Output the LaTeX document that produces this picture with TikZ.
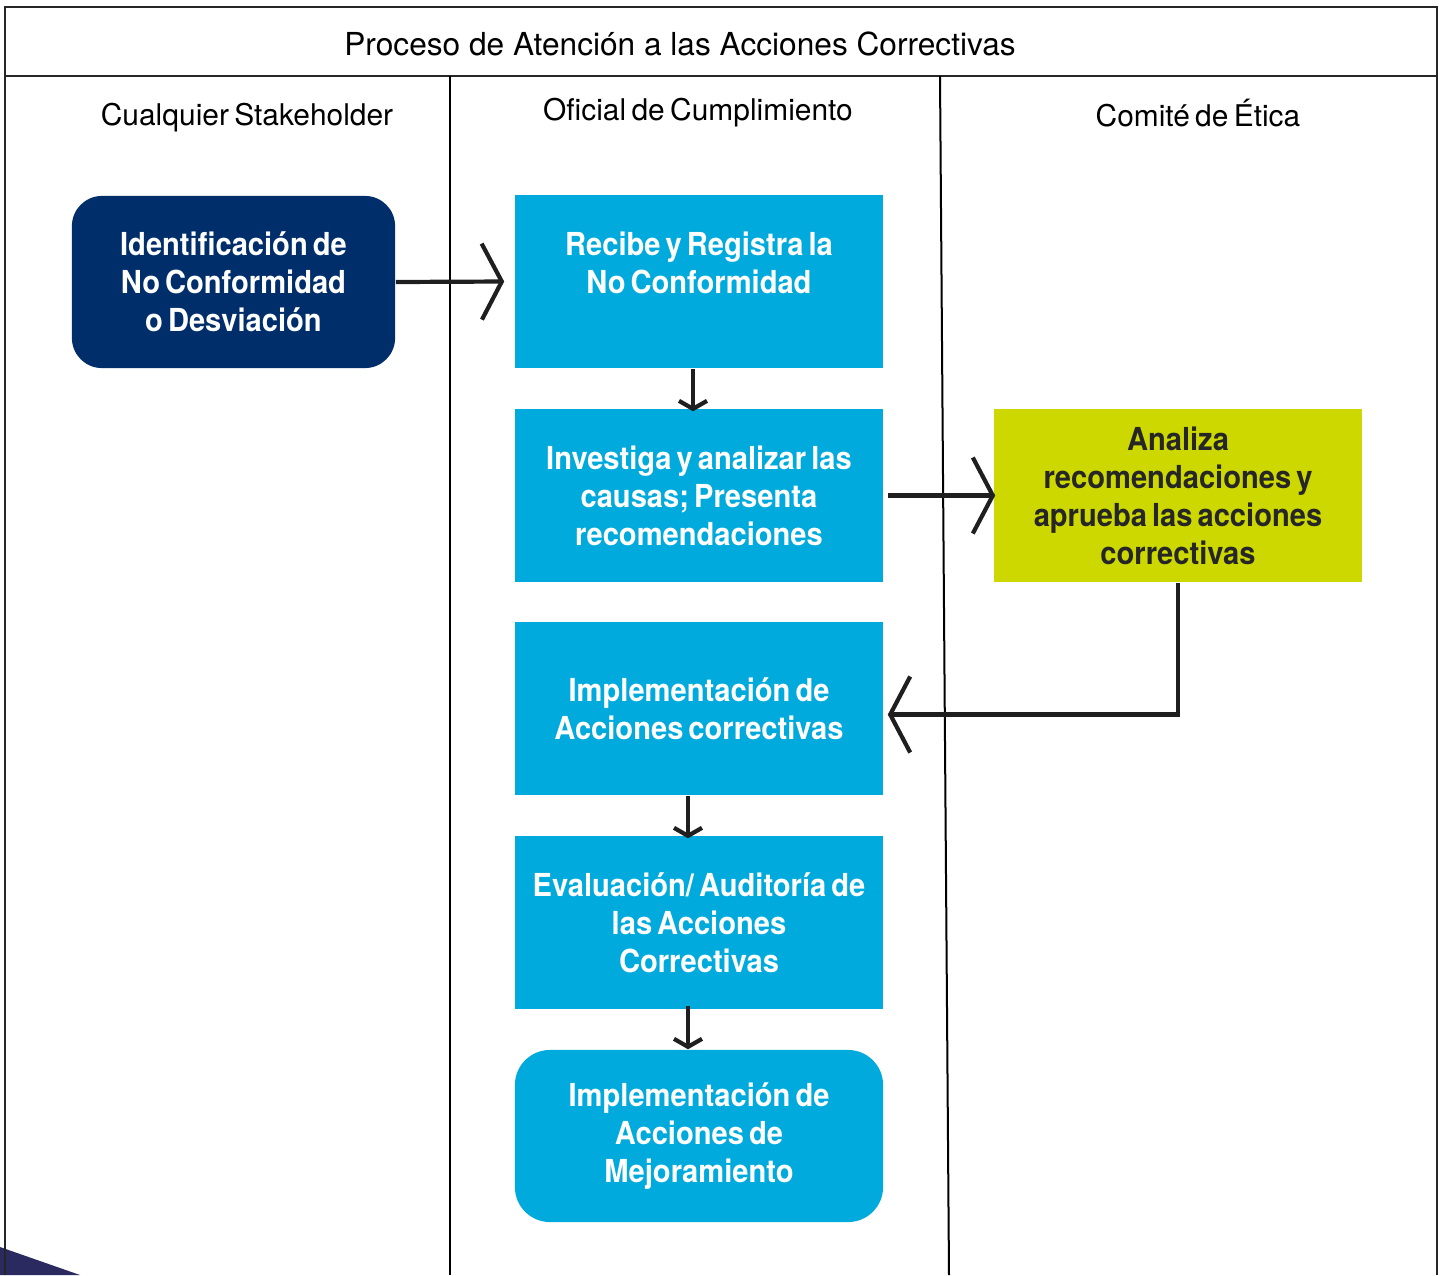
\documentclass[tikz,border=0pt]{standalone}
\usepackage{fontspec}
\setmainfont{TeX Gyre Heros}
\newfontfamily\boxfont[FakeStretch=0.92]{TeX Gyre Heros}
\usetikzlibrary{arrows.meta}
\definecolor{navy}{HTML}{002E6B}
\definecolor{cyanbox}{HTML}{00AADC}
\definecolor{limebox}{HTML}{CCD800}
\definecolor{corner}{HTML}{2A2960}
\newcommand\letrapaso{\boxfont\bfseries\fontsize{9}{10.8}\selectfont\spaceskip 0.16em\relax}
\newcommand\letracarril{\fontsize{8.5}{10}\selectfont\spaceskip 0.18em\relax}
\begin{document}
\begin{tikzpicture}[x=0.01cm,y=-0.01cm,
    paso/.style={fill=cyanbox,text=white,minimum width=3.68cm,minimum height=1.73cm,
      align=center,inner sep=0pt,font=\letrapaso},
    carril/.style={font=\letracarril},
    flujo/.style={line width=0.042cm,draw=black!88},
    puntagrande/.style={-{Straight Barb[length=0.2cm,width=0.76cm]}},
    puntachica/.style={-{Straight Barb[length=0.08cm,width=0.28cm]}}]
      \useasboundingbox (0,0) rectangle (1445,1275) ;
      % marco y carriles
      \fill[corner] (0,1247)--(80,1275)--(0,1275)--cycle ;
      \draw[line width=0.025cm,black!85] (5,1275)--(5,7)--(1437,7)--(1437,1275) ;
      \draw[line width=0.02cm,black!85] (5,76)--(1437,76) ;
      \draw[line width=0.02cm] (450,76)--(450,1275) ;
      \draw[line width=0.02cm] (940,76)--(949,1275) ;
      \node[font=\fontsize{9}{10}\selectfont] (titulo) at (680,44) %
      {Proceso de Atención a las Acciones Correctivas} ;
      \node[carril] (stake) at (247,118) {Cualquier Stakeholder} ;
      \node[carril] (oficial) at (698,113) {Oficial de Cumplimiento} ;
      \node[carril] (comite) at (1198,113) {Comité de Ética} ;
      % pasos
      \node[paso,fill=navy,minimum width=3.23cm,minimum height=1.72cm,rounded corners=0.3cm] %
      (ident) at (233.5,282) {Identificación de\\No Conformidad\\o Desviación} ;
      \node[paso] (recibe) at (699,281.5) {Recibe y Registra la\\No Conformidad\\\mbox{}} ;
      \node[paso] (investiga) at (699,495.5) {Investiga y analizar las\\causas; Presenta\\recomendaciones} ;
      \node[paso,fill=limebox,text=black!85] (analiza) at (1178,495.5) %
      {Analiza\\recomendaciones y\\aprueba las acciones\\correctivas} ;
      \node[paso] (implementa) at (699,708.5) {Implementación de\\Acciones correctivas} ;
      \node[paso] (evalua) at (699,922.5) {Evaluación/ Auditoría de\\las Acciones\\Correctivas} ;
      \node[paso,minimum height=1.72cm,rounded corners=0.35cm] (mejora) at (699,1136) %
      {Implementación de\\Acciones de\\Mejoramiento} ;
      % flechas
      \draw[flujo,puntagrande] (ident.east) -- ([xshift=-0.1cm]recibe.west) ;
      \draw[flujo,puntachica] ([xshift=-0.06cm]recibe.south) -- ([xshift=-0.06cm,yshift=-0.03cm]investiga.north) ;
      \draw[flujo,puntagrande] ([xshift=0.04cm]investiga.east) -- ([xshift=0.02cm]analiza.west) ;
      \draw[flujo,puntagrande] (analiza.south) |- ([xshift=0.04cm,yshift=-0.06cm]implementa.east) ;
      \draw[flujo,puntachica] ([xshift=-0.11cm]implementa.south) -- ([xshift=-0.11cm,yshift=-0.03cm]evalua.north) ;
      \draw[flujo,puntachica] ([xshift=-0.11cm,yshift=0.04cm]evalua.south) -- ([xshift=-0.11cm]mejora.north) ;
    \end{tikzpicture}
\end{document}
